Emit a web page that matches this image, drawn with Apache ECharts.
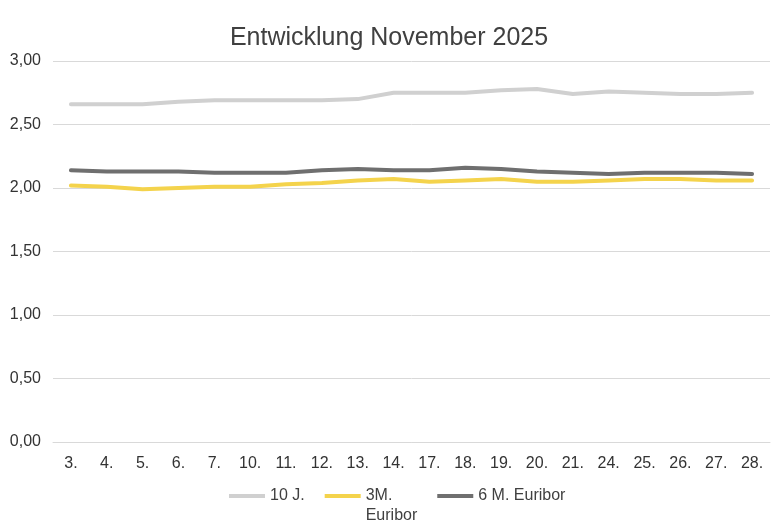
<!DOCTYPE html>
<html><head><meta charset="utf-8">
<script src="https://cdn.jsdelivr.net/npm/echarts@6/dist/echarts.min.js"></script>
<style>html,body{margin:0;padding:0;background:#fff}#c{width:778px;height:532px}</style>
</head><body><div id="c"></div>
<script>
const categories = ['3.','4.','5.','6.','7.','10.','11.','12.','13.','14.','17.','18.','19.','20.','21.','24.','25.','26.','27.','28.'];
const zehnJ = [2.66,2.66,2.66,2.68,2.69,2.69,2.69,2.69,2.70,2.75,2.75,2.75,2.77,2.78,2.74,2.76,2.75,2.74,2.74,2.75];
const drei = [2.02,2.01,1.99,2.00,2.01,2.01,2.03,2.04,2.06,2.07,2.05,2.06,2.07,2.05,2.05,2.06,2.07,2.07,2.06,2.06];
const sechs = [2.14,2.13,2.13,2.13,2.12,2.12,2.12,2.14,2.15,2.14,2.14,2.16,2.15,2.13,2.12,2.11,2.12,2.12,2.12,2.11];
const names = ['10 J.','3M. Euribor','6 M. Euribor'];
const colors = ['#D0D0D0','#F4D34C','#6F6F6F'];
const font = 'Liberation Sans, Arial, sans-serif';
const chart = echarts.init(document.getElementById('c'));
const mk = (n,d,c)=>({name:n,type:'line',data:d,symbol:'none',smooth:false,
  lineStyle:{width:4,color:c,cap:'round',join:'round'},itemStyle:{color:c}});
chart.setOption({
  animation:false,
  title:{text:'Entwicklung November 2025',left:'center',top:21,
    textStyle:{fontFamily:font,fontSize:25,fontWeight:'normal',color:'#404040'}},
  grid:{left:53,right:8,top:61,bottom:90,containLabel:false},
  legend:{top:461,left:224,icon:'rect',itemWidth:36,itemHeight:4,itemGap:20,
    textStyle:{fontFamily:font,fontSize:16,color:'#404040',lineHeight:20},
    formatter:n=> n===names[1] ? ' \n3M.\nEuribor' : n,
    data:names},
  xAxis:{type:'category',data:categories,boundaryGap:true,
    axisLine:{lineStyle:{color:'#D9D9D9'}},axisTick:{show:false},
    axisLabel:{fontFamily:font,fontSize:16,color:'#333333',margin:14}},
  yAxis:{type:'value',min:0,max:3,interval:0.5,
    axisLine:{show:false},axisTick:{show:false},
    splitLine:{lineStyle:{color:'#D9D9D9'}},
    axisLabel:{fontFamily:font,fontSize:16,color:'#333333',margin:12,
      formatter:v=>v.toFixed(2).replace('.',',')}},
  series:[mk(names[0],zehnJ,colors[0]),mk(names[1],drei,colors[1]),mk(names[2],sechs,colors[2])]
});
</script></body></html>
